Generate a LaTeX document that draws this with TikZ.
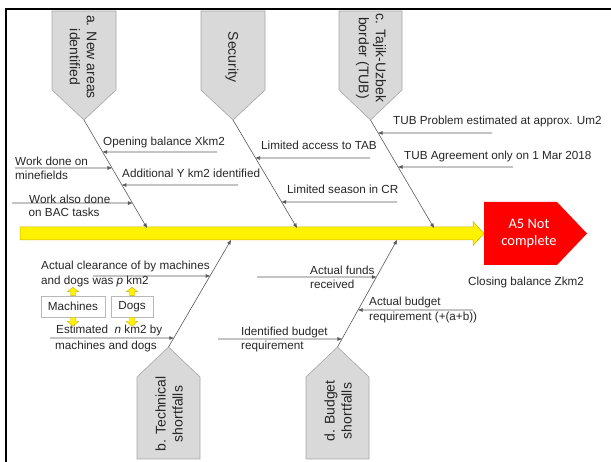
\documentclass[tikz,border=0pt]{standalone}
\usepackage{fontspec}
\setmainfont{Liberation Sans}
\newfontfamily\labfont{Liberation Sans}
\newfontfamily\carlito{Carlito}
\usetikzlibrary{arrows.meta,calc}
\definecolor{boxgray}{HTML}{D9D9D9}
\definecolor{boxedge}{HTML}{A6A6A6}
\definecolor{bonegray}{HTML}{595959}
\definecolor{yeledge}{HTML}{C8B400}
\definecolor{txt}{HTML}{262626}
\newcommand\lblsize{\labfont\fontsize{11.7pt}{14pt}\selectfont}
\newcommand\boxsize{\labfont\fontsize{14pt}{17pt}\selectfont}
\tikzset{
  lbl/.style={font=\lblsize, inner sep=0pt, anchor=base west, text=txt},
  boxtxt/.style={font=\boxsize, align=center, inner sep=0pt, text=txt},
  fishbox/.style={fill=boxgray, draw=boxedge, line width=0.6pt},
  bone/.style={draw=bonegray, line width=0.6pt, -{Triangle[length=4.5pt,width=3.5pt]}},
  subarr/.style={draw=bonegray, line width=0.6pt, -{Triangle[length=4.5pt,width=3.5pt]}},
  smallbox/.style={draw=boxedge!80, fill=white, line width=0.6pt, inner sep=0pt,
    minimum height=21pt, font=\lblsize, text=txt},
  yarrow/.style={fill=yellow, draw=yeledge, line width=0.4pt},
  uparr/.pic={\filldraw[yarrow] (-2.5,0) -- (-2.5,-4) -- (-5.5,-4) -- (0,-8.5) -- (5.5,-4) -- (2.5,-4) -- (2.5,0) -- cycle;},
  downarr/.pic={\filldraw[yarrow] (-2.5,0) -- (-2.5,4) -- (-5.5,4) -- (0,9) -- (5.5,4) -- (2.5,4) -- (2.5,0) -- cycle;}
}
\begin{document}
\begin{tikzpicture}[x=1pt,y=-1pt]
\useasboundingbox (0,0) rectangle (611,462);
% frame
\draw[line width=2.2pt, black] (6,462) -- (6,9) -- (611,9);

% main spine arrow
\filldraw[fill=yellow, draw=yeledge, line width=0.5pt]
  (20,227) -- (473,227) -- (473,221.5) -- (484,233.5) -- (473,245.5) -- (473,240) -- (20,240) -- cycle;
% head box
\fill[red] (484,202) -- (557,202) -- (587,233.5) -- (557,265) -- (484,265) -- cycle;
\node[font=\carlito\fontsize{14.5pt}{17pt}\selectfont, text=white, align=center, inner sep=0pt] (a5) at (529,234) {A5 Not\\complete};
\node[lbl] (closing) at (468,286) {Closing balance Zkm2};

% top category boxes
\filldraw[fishbox] (52,11) -- (116,11) -- (116,90) -- (84,120) -- (52,90) -- cycle;
\filldraw[fishbox] (201,11) -- (265,11) -- (265,90) -- (233,120) -- (201,90) -- cycle;
\filldraw[fishbox] (339,11) -- (402,11) -- (402,90) -- (370.5,120) -- (339,90) -- cycle;
\node[boxtxt, rotate=-90] (catA) at (83,57) {a. New areas\\identified};
\node[boxtxt, rotate=-90] (catS) at (232,57) {Security};
\node[boxtxt, rotate=-90] (catC) at (371,58) {c. Tajik-Uzbek\\border (TUB)};

% bottom category boxes
\filldraw[fishbox] (137,459) -- (200,459) -- (200,377) -- (168.5,347) -- (137,377) -- cycle;
\filldraw[fishbox] (306,459) -- (369,459) -- (369,377) -- (337.5,347) -- (306,377) -- cycle;
\node[boxtxt, rotate=90] (catB) at (169,414) {b. Technical\\shortfalls};
\node[boxtxt, rotate=90] (catD) at (338,411) {d. Budget\\shortfalls};

% bone coordinates
\coordinate (atip) at (84,120);   \coordinate (aend) at (147,228);
\coordinate (stip) at (233,120);  \coordinate (send) at (297,228);
\coordinate (ctip) at (370.5,120);\coordinate (cend) at (434,228);
\coordinate (btip) at (168.5,347);\coordinate (bend) at (231,240);
\coordinate (dtip) at (337.5,347);\coordinate (dend) at (397,240);

\draw[bone] (atip) -- (aend);
\draw[bone] (stip) -- (send);
\draw[bone] (ctip) -- (cend);
\draw[bone] (btip) -- (bend);
\draw[bone] (dtip) -- (dend);

% --- a. New areas identified
\coordinate (o1s) at (217,152);
\draw[subarr] (o1s) -- ($(atip)!0.296!(aend)$);
\node[lbl] (o1) at (103,146) {Opening balance Xkm2};
\coordinate (ads) at (238,185);
\draw[subarr] (ads) -- ($(atip)!0.602!(aend)$);
\node[lbl] (ad) at (122,178) {Additional Y km2 identified};
\coordinate (wds) at (15,168);
\draw[subarr] (wds) -- ($(atip)!0.444!(aend)$);
\node[lbl] (wd1) at (15,166) {Work done on};
\node[lbl] (wd2) at (15,180) {minefields};
\coordinate (bacs) at (12,203);
\draw[subarr] (bacs) -- ($(atip)!0.769!(aend)$);
\node[lbl] (bac1) at (29,204) {Work also done};
\node[lbl] (bac2) at (28.5,217) {on BAC tasks};

% --- Security
\coordinate (lats) at (370,158);
\draw[subarr] (lats) -- ($(stip)!0.352!(send)$);
\node[lbl] (lat) at (261,150) {Limited access to TAB};
\coordinate (lscs) at (397,202);
\draw[subarr] (lscs) -- ($(stip)!0.759!(send)$);
\node[lbl] (lsc) at (287,194) {Limited season in CR};

% --- c. Tajik-Uzbek border
\coordinate (t1s) at (492,133);
\draw[subarr] (t1s) -- ($(ctip)!0.120!(cend)$);
\node[lbl] (t1) at (393,125) {TUB Problem estimated at approx. Um2};
\coordinate (t2s) at (513,167);
\draw[subarr] (t2s) -- ($(ctip)!0.435!(cend)$);
\node[lbl] (t2) at (404,160) {TUB Agreement only on 1 Mar 2018};

% --- b. Technical shortfalls
\coordinate (clrs) at (93,276);
\draw[subarr] (clrs) -- ($(btip)!0.664!(bend)$);
\node[lbl] (clr1) at (41,270) {Actual clearance of by machines};
\node[lbl] (clr2) at (41,285) {and dogs was \textit{p} km2};
\coordinate (ests) at (50,338);
\draw[subarr] (ests) -- ($(btip)!0.084!(bend)$);
\node[lbl] (est1) at (56,334) {Estimated\ \ \textit{n} km2 by};
\node[lbl] (est2) at (55,350) {machines and dogs};
\node[smallbox, minimum width=64pt] (mach) at (73,306.5) {Machines};
\node[smallbox, minimum width=42pt] (dogs) at (132,306.5) {Dogs};
\pic at (mach.north) {uparr};
\pic at (dogs.north) {uparr};
\pic at (mach.south) {downarr};
\pic at (dogs.south) {downarr};

% --- d. Budget shortfalls
\coordinate (fs) at (257,277);
\draw[subarr] (fs) -- ($(dtip)!0.654!(dend)$);
\node[lbl] (f1) at (310,275) {Actual funds};
\node[lbl] (f2) at (310,289) {received};
\coordinate (abs) at (473,310);
\draw[subarr] (abs) -- ($(dtip)!0.346!(dend)$);
\node[lbl] (ab1) at (369,306) {Actual budget};
\node[lbl] (ab2) at (369,321) {requirement (+(a+b))};
\coordinate (ibs) at (218,339);
\draw[subarr] (ibs) -- ($(dtip)!0.075!(dend)$);
\node[lbl] (ib1) at (241,336) {Identified budget};
\node[lbl] (ib2) at (241,350) {requirement};
\end{tikzpicture}
\end{document}
